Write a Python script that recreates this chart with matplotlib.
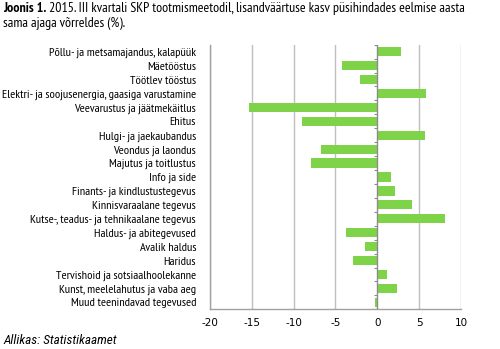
import matplotlib
matplotlib.use("Agg")
import matplotlib.pyplot as plt
import numpy as np
from matplotlib import font_manager

names = {f.name for f in font_manager.fontManager.ttflist}
prefs = ['PT Sans Narrow', 'Roboto Condensed', 'Archivo Narrow', 'Fira Sans Condensed',
         'Asap Condensed', 'Open Sans Condensed', 'Liberation Sans Narrow',
         'Encode Sans Condensed', 'Barlow Semi Condensed', 'Carlito']
FONT = next((p for p in prefs if p in names), 'DejaVu Sans')
plt.rcParams['font.family'] = [FONT, 'DejaVu Sans']
ITAL = next((p for p in ['Roboto Condensed', 'Carlito', 'Liberation Sans'] if p in names), 'DejaVu Sans')

categories = [
    "Põllu- ja metsamajandus, kalapüük",
    "Mäetööstus",
    "Töötlev tööstus",
    "Elektri- ja soojusenergia, gaasiga varustamine",
    "Veevarustus ja jäätmekäitlus",
    "Ehitus",
    "Hulgi- ja jaekaubandus",
    "Veondus ja laondus",
    "Majutus ja toitlustus",
    "Info ja side",
    "Finants- ja kindlustustegevus",
    "Kinnisvaraalane tegevus",
    "Kutse-, teadus- ja tehnikaalane tegevus",
    "Haldus- ja abitegevused",
    "Avalik haldus",
    "Haridus",
    "Tervishoid ja sotsiaalhoolekanne",
    "Kunst, meelelahutus ja vaba aeg",
    "Muud teenindavad tegevused",
]
values = [2.8, -4.2, -2.1, 5.8, -15.3, -9.0, 5.7, -6.7, -7.9, 1.6,
          2.1, 4.2, 8.1, -3.7, -1.5, -2.9, 1.2, 2.4, -0.3]
xticks = [-20, -15, -10, -5, 0, 5, 10]
title_bold = "Joonis 1."
title_rest1 = " 2015. III kvartali SKP tootmismeetodil, lisandväärtuse kasv püsihindades eelmise aasta"
title_rest2 = "sama ajaga võrreldes (%)."
source = "Allikas: Statistikaamet"

W, H = 500, 349
fig = plt.figure(figsize=(W/100, H/100), dpi=100)
renderer = fig.canvas.get_renderer()

def width_px(s, size, **kw):
    t = fig.text(0, 0, s, fontsize=size, **kw)
    w = t.get_window_extent(renderer).width
    t.remove()
    return w

lab_size = min(9.5, 10 * 192 / width_px(categories[3], 10))
tw = width_px(title_bold, 10, fontweight='bold') + width_px(title_rest1, 10)
title_size = min(10, 10 * 494 / tw)
src_size = min(9.5, 10 * 121 / width_px(source, 10, family=[ITAL, 'DejaVu Sans'], style='italic'))

ax = fig.add_axes([210/W, 1-309.3/H, (461-210)/W, (309.3-44.7)/H])

n = len(categories)
y = np.arange(n)
ax.barh(y, values, height=0.66, color="#7ED348", zorder=3)
ax.set_ylim(n-0.5, -0.5)
ax.set_xlim(-20, 10)
ax.set_xticks(xticks)
ax.set_xticklabels([str(v) for v in xticks], fontsize=7.5, family='DejaVu Sans')
ax.set_yticks(y)
ax.set_yticklabels(categories, fontsize=lab_size)
ax.tick_params(axis='y', length=0, pad=10)
ax.tick_params(axis='x', length=0, pad=6)

for v in xticks:
    if v != 0:
        ax.axvline(v, color="#BFBFBF", lw=1.0, zorder=1)
ax.axvline(0, color="#8C8C8C", lw=1.0, zorder=4)
bounds = np.arange(n+1) - 0.5
ax.hlines(bounds, -0.4, 0, color="#8C8C8C", lw=0.8, zorder=4)

for s in ['top', 'right']:
    ax.spines[s].set_visible(False)
for s in ['left', 'bottom']:
    ax.spines[s].set_color("#A0A0A0")
    ax.spines[s].set_linewidth(1.0)

t1 = fig.text(3/W, 1-12/H, title_bold, fontsize=title_size, fontweight='bold', ha='left', va='baseline')
ax.annotate(title_rest1, xy=(1, 0), xycoords=t1, fontsize=title_size,
            ha='left', va='bottom', annotation_clip=False)
fig.text(3/W, 1-27/H, title_rest2, fontsize=title_size, ha='left', va='baseline')
fig.text(3/W, 1-344/H, source, fontsize=src_size, style='italic',
         family=[ITAL, 'DejaVu Sans'], ha='left', va='baseline')

fig.savefig("out.png", dpi=100)
